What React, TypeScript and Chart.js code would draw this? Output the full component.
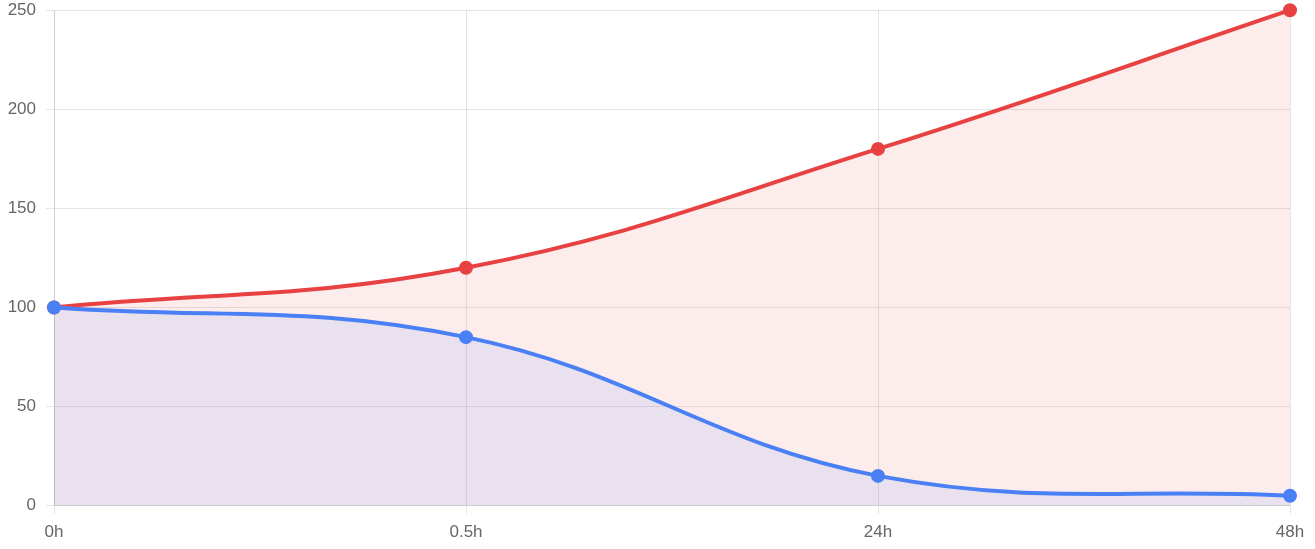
import React, { useEffect, useRef } from "react";
import { Chart, registerables } from "chart.js";

Chart.register(...registerables);

const labels = ["0h", "0.5h", "24h", "48h"];
const redValues = [100, 120, 180, 250];
const blueValues = [100, 85, 15, 5];
const yTicks = [0, 50, 100, 150, 200, 250];

export default function App() {
  const ref = useRef<HTMLCanvasElement | null>(null);
  useEffect(() => {
    document.body.style.margin = "0";
    document.body.style.overflow = "hidden";
    const ctx = ref.current!;
    const font = { family: "'Liberation Sans', Arial, sans-serif", size: 17 };
    const chart = new Chart(ctx, {
      type: "line",
      data: {
        labels,
        datasets: [
          {
            data: redValues,
            borderColor: "#e84141",
            backgroundColor: "rgba(239,68,68,0.1)",
            pointBackgroundColor: "#e84141",
            pointBorderColor: "#e84141",
            fill: "origin",
            tension: 0.4,
            borderWidth: 4,
            pointRadius: 5,
            order: 1,
          },
          {
            data: blueValues,
            borderColor: "#4a80f5",
            backgroundColor: "rgba(59,130,246,0.1)",
            pointBackgroundColor: "#4a80f5",
            pointBorderColor: "#4a80f5",
            fill: "origin",
            tension: 0.4,
            borderWidth: 4,
            pointRadius: 5,
            order: 0,
          },
        ],
      },
      options: {
        animation: false,
        responsive: false,
        maintainAspectRatio: false,
        devicePixelRatio: 1,
        clip: false,
        layout: { padding: { top: 0, right: 25, left: 0, bottom: 0 } },
        plugins: { legend: { display: false }, tooltip: { enabled: false } },
        scales: {
          x: {
            grid: { color: "rgba(0,0,0,0.1)" },
            ticks: { color: "#666", font, padding: 9 },
          },
          y: {
            min: 0,
            max: 250,
            afterBuildTicks: (axis: any) => {
              axis.ticks = yTicks.map((v) => ({ value: v }));
            },
            afterFit: (axis: any) => {
              axis.width = 54;
            },
            grid: { color: "rgba(0,0,0,0.1)" },
            ticks: { color: "#666", font, padding: 10 },
          },
        },
      },
    });
    return () => chart.destroy();
  }, []);
  return (
    <div style={{ width: 1315, height: 549, overflow: "hidden", position: "relative" }}>
      <canvas
        ref={ref}
        width={1315}
        height={562}
        style={{ display: "block", width: 1315, height: 562, position: "absolute", top: -10, left: 0 }}
      />
    </div>
  );
}
